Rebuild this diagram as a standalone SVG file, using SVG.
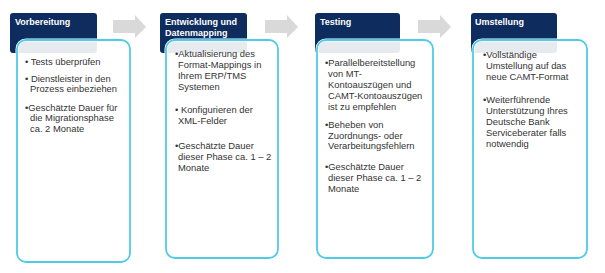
<svg xmlns="http://www.w3.org/2000/svg" width="605" height="273" viewBox="0 0 605 273">
<style>
.hdr{fill:#0e2c5e}
.card{fill:#ffffff;fill-opacity:0.9;stroke:#4fcbe9;stroke-width:1.8}
.halo{fill:none;stroke:#ffffff;stroke-width:3}
.ht{font-family:"Liberation Sans",Arial,sans-serif;font-size:9px;font-weight:bold;fill:#ffffff}
.bt{font-family:"Liberation Sans",Arial,sans-serif;font-size:9.4px;fill:#333333}
.arr{fill:#d9d9d9}
</style>
<rect width="605" height="273" fill="#ffffff"/>
<g id="connectors">
<polygon class="arr" points="113,20 135,20 135,15 146,27 135,38 135,33 113,33"/>
<polygon class="arr" points="265,20 287,20 287,15 298,27 287,38 287,33 265,33"/>
<polygon class="arr" points="418,20 440,20 440,15 451,27 440,38 440,33 418,33"/>
</g>
<g id="node-vorbereitung">
<rect class="hdr" x="10" y="13" width="87" height="40" rx="3"/>
<text class="ht" x="15" y="25">Vorbereitung</text>
<rect class="halo" x="17" y="40" width="113" height="222" rx="9"/>
<rect class="card" x="17" y="40" width="113" height="222" rx="9"/>
<text class="bt" x="25" y="65">• Tests überprüfen</text>
<text class="bt" x="25" y="82">• Dienstleister in den</text>
<text class="bt" x="30" y="92">Prozess einbeziehen</text>
<text class="bt" x="25" y="111">•Geschätzte Dauer für</text>
<text class="bt" x="30" y="121">die Migrationsphase</text>
<text class="bt" x="30" y="132">ca. 2 Monate</text>
</g>
<g id="node-entwicklung">
<rect class="hdr" x="160" y="13" width="87" height="40" rx="3"/>
<text class="ht" x="165" y="24.5">Entwicklung und</text>
<text class="ht" x="165" y="35.5">Datenmapping</text>
<rect class="halo" x="166" y="40" width="112" height="218" rx="9"/>
<rect class="card" x="166" y="40" width="112" height="218" rx="9"/>
<text class="bt" x="175" y="57">•Aktualisierung des</text>
<text class="bt" x="178" y="68">Format-Mappings in</text>
<text class="bt" x="178" y="79">Ihrem ERP/TMS</text>
<text class="bt" x="178" y="90">Systemen</text>
<text class="bt" x="175" y="113">• Konfigurieren der</text>
<text class="bt" x="178" y="124">XML-Felder</text>
<text class="bt" x="175" y="149">•Geschätzte Dauer</text>
<text class="bt" x="178" y="160">dieser Phase ca. 1 – 2</text>
<text class="bt" x="178" y="171">Monate</text>
</g>
<g id="node-testing">
<rect class="hdr" x="315" y="13" width="85" height="40" rx="3"/>
<text class="ht" x="320" y="25">Testing</text>
<rect class="halo" x="317" y="40" width="116" height="218" rx="9"/>
<rect class="card" x="317" y="40" width="116" height="218" rx="9"/>
<text class="bt" x="325" y="66">•Parallelbereitstellung</text>
<text class="bt" x="328" y="77">von MT-</text>
<text class="bt" x="328" y="88">Kontoauszügen und</text>
<text class="bt" x="328" y="99">CAMT-Kontoauszügen</text>
<text class="bt" x="328" y="110">ist zu empfehlen</text>
<text class="bt" x="325" y="128">•Beheben von</text>
<text class="bt" x="328" y="138.5">Zuordnungs- oder</text>
<text class="bt" x="328" y="149">Verarbeitungsfehlern</text>
<text class="bt" x="325" y="170">•Geschätzte Dauer</text>
<text class="bt" x="328" y="181">dieser Phase ca. 1 – 2</text>
<text class="bt" x="328" y="192">Monate</text>
</g>
<g id="node-umstellung">
<rect class="hdr" x="471" y="13" width="86" height="40" rx="3"/>
<text class="ht" x="475" y="25">Umstellung</text>
<rect class="halo" x="473" y="40" width="114" height="218" rx="9"/>
<rect class="card" x="473" y="40" width="114" height="218" rx="9"/>
<text class="bt" x="483" y="58">•Vollständige</text>
<text class="bt" x="486" y="69">Umstellung auf das</text>
<text class="bt" x="486" y="80">neue CAMT-Format</text>
<text class="bt" x="483" y="103">•Weiterführende</text>
<text class="bt" x="486" y="114">Unterstützung Ihres</text>
<text class="bt" x="486" y="125">Deutsche Bank</text>
<text class="bt" x="486" y="136">Serviceberater falls</text>
<text class="bt" x="486" y="147">notwendig</text>
</g>
</svg>
